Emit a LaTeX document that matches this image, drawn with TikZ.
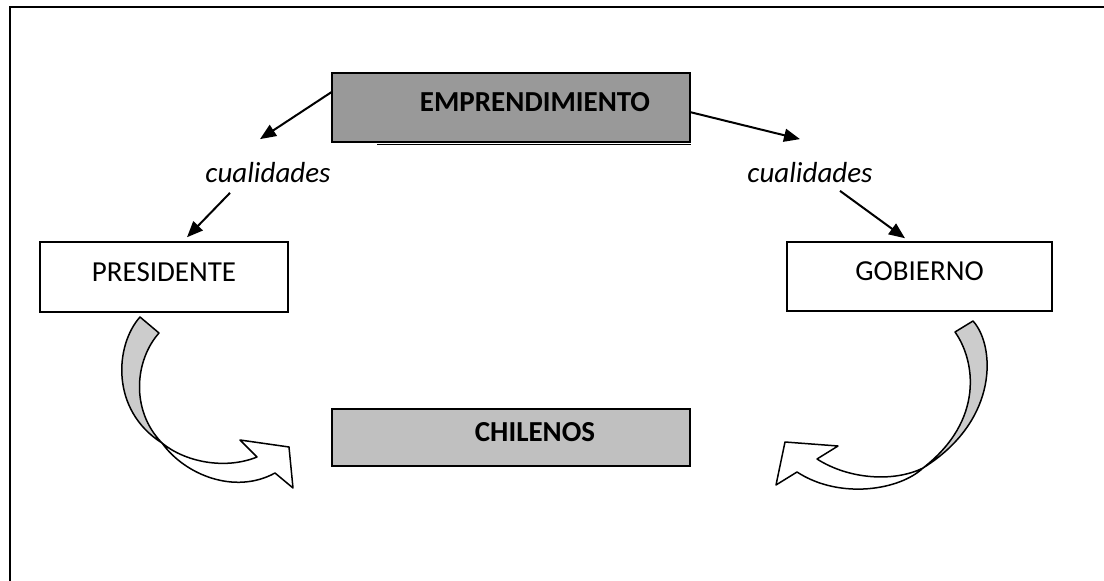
\documentclass[tikz,border=0pt]{standalone}
\usepackage{fontspec}
\setmainfont{Carlito}
\usetikzlibrary{arrows.meta,calc}
\definecolor{empgray}{RGB}{153,153,153}
\definecolor{chigray}{RGB}{192,192,192}
\definecolor{ribgray}{RGB}{204,204,204}
\begin{document}
\begin{tikzpicture}[x=1pt,y=-1pt,
  box/.style={draw=black, line width=1.5pt, rectangle, inner sep=0pt, text height=18pt, text depth=10pt},
  txt/.style={font=\fontsize{29}{34}\selectfont},
  btxt/.style={font=\fontsize{29}{34}\selectfont\bfseries},
  lbl/.style={inner sep=0pt, font=\fontsize{29}{34}\selectfont\itshape},
  conn/.style={line width=2pt, -{Triangle[length=16pt,width=13pt]}},
  rib/.style={draw=black, line width=1.5pt, line join=round}]
\useasboundingbox (0,0) rectangle (1104,581);
\clip (0,0) rectangle (1104,581);
\draw[line width=2pt] (10,7) rectangle (1130,610);

% boxes
\node[box, btxt, fill=empgray, minimum width=358pt, minimum height=69pt] (emp) at (511,107.5) {\hspace*{48pt}EMPRENDIMIENTO};
\draw[line width=1.5pt] ($(emp.south west)+(46,1.5)$) -- ($(emp.south east)+(0,1.5)$);
\node[box, txt, fill=white, minimum width=248pt, minimum height=70pt] (pres) at (164,277) {PRESIDENTE};
\node[box, txt, fill=white, minimum width=265pt, minimum height=69pt] (gob) at (919.5,276.5) {GOBIERNO};
\node[box, btxt, fill=chigray, minimum width=358pt, minimum height=57pt] (chi) at (511,437.5) {\hspace*{48pt}CHILENOS};

% labels
\node[lbl] (cl) at (268,172.5) {cualidades};
\node[lbl] (cr) at (810,172.5) {cualidades};

% connectors
\draw[conn] ($(emp.north west)+(0,20)$) -- ($(cl.north)+(-8,-23)$);
\draw[conn] ($(cl.south)+(-38,10)$) -- ($(pres.north)+(23,-4)$);
\draw[conn] ($(emp.north east)+(0,40)$) -- ($(cr.north)+(-10,-23)$);
\draw[conn] ($(cr.south)+(30,8)$) -- ($(gob.north)+(-14.5,-3)$);

% left curved arrow
\filldraw[rib, fill=ribgray] (140,317) .. controls (115,345) and (110,410) .. (162,443)
  .. controls (130,410) and (135,360) .. (159,333) -- cycle;
\filldraw[rib, fill=white] (162,443) .. controls (185,462) and (225,470) .. (257,457)
  -- (240,440) -- (289,447) -- (293,488) -- (275,473)
  .. controls (235,495) and (185,475) .. (162,443) -- cycle;

% right curved arrow
\filldraw[rib, fill=ribgray] (973,321) .. controls (995,345) and (1000,420) .. (923,468)
  .. controls (985,420) and (975,360) .. (955,332) -- cycle;
\filldraw[rib, fill=white] (923,468) .. controls (895,482) and (850,480) .. (817,459)
  -- (838,446) -- (785,442) -- (776,485) -- (797,472)
  .. controls (840,500) and (900,490) .. (923,468) -- cycle;
\end{tikzpicture}
\end{document}
